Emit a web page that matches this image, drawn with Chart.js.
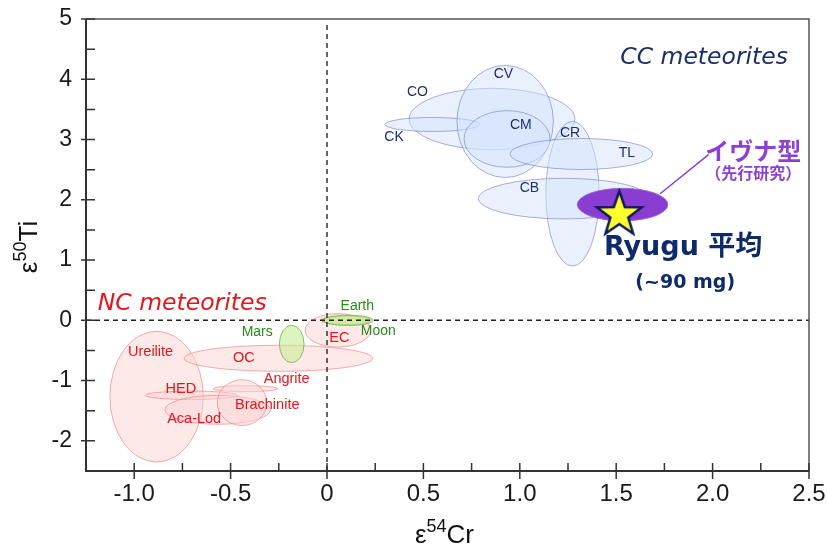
<!DOCTYPE html>
<html>
<head>
<meta charset="utf-8">
<script src="https://cdn.jsdelivr.net/npm/chart.js@4.4.0/dist/chart.umd.min.js"></script>
<style>
  body { margin: 0; background: #fff; }
  #wrap { width: 827px; height: 547px; }
</style>
</head>
<body>
<div id="wrap"><canvas id="chart"></canvas></div>
<script>
// axis ticks
const xTicks = [-1.0, -0.5, 0, 0.5, 1.0, 1.5, 2.0, 2.5];
const xTickLabels = ['-1.0', '-0.5', '0', '0.5', '1.0', '1.5', '2.0', '2.5'];
const xMinorTicks = [-0.75, -0.25, 0.25, 0.75, 1.25, 1.75, 2.25];
const yTicks = [-2, -1, 0, 1, 2, 3, 4, 5];
const yTickLabels = ['-2', '-1', '0', '1', '2', '3', '4', '5'];
const yMinorTicks = [-1.5, -0.5, 0.5, 1.5, 2.5, 3.5, 4.5];

// carbonaceous (CC) fields: centre and half-widths, in epsilon units
const ccNames = ['CO', 'CK', 'CV', 'CM', 'CR', 'TL', 'CB'];
const ccX  = [0.856, 0.547, 0.924, 0.934, 1.273, 1.319, 1.229];
const ccY  = [3.34, 3.25, 3.30, 3.01, 2.10, 2.76, 2.02];
const ccRx = [0.43, 0.246, 0.25, 0.223, 0.138, 0.37, 0.444];
const ccRy = [0.51, 0.116, 0.93, 0.47, 1.20, 0.257, 0.337];
const ccLabelX = [0.469, 0.348, 0.915, 1.005, 1.261, 1.555, 1.050];
const ccLabelY = [3.79, 3.04, 4.08, 3.24, 3.10, 2.77, 2.19];

// non-carbonaceous (NC) fields
const ncNames = ['Ureilite', 'OC', 'EC', 'Angrite', 'HED', 'Aca-Lod', 'Brachinite'];
const ncX  = [-0.884, -0.252, 0.056, -0.423, -0.703, -0.567, -0.441];
const ncY  = [-1.266, -0.63, -0.166, -1.134, -1.244, -1.485, -1.366];
const ncRx = [0.242, 0.489, 0.17, 0.167, 0.238, 0.274, 0.128];
const ncRy = [1.084, 0.216, 0.277, 0.05, 0.07, 0.24, 0.38];
const ncLabelX = [-0.915, -0.431, 0.064, -0.209, -0.758, -0.689, -0.310];
const ncLabelY = [-0.526, -0.619, -0.287, -0.967, -1.145, -1.631, -1.410];

// planets
const planetNames = ['Mars', 'Earth', 'Moon'];
const planetX  = [-0.183, 0.10, 0.11];
const planetY  = [-0.393, 0.0, 0.0];
const planetRx = [0.064, 0.13, 0.13];
const planetRy = [0.31, 0.07, 0.085];
const planetLabelX = [-0.362, 0.157, 0.266];
const planetLabelY = [-0.194, 0.232, -0.183];

// Ivuna-type (previous studies) and Ryugu average
const ivunaX = [1.533];
const ivunaY = [1.92];
const ivunaRx = [0.235];
const ivunaRy = [0.27];
const ryuguX = [1.516];
const ryuguY = [1.755];
const calloutX = [1.728, 1.979];
const calloutY = [2.10, 2.75];

// dashed zero lines
const hLineX = [-1.25, 2.5];
const hLineY = [0, 0];
const vLineX = [0, 0];
const vLineY = [-2.5, 4.95];

const SANS = '"Liberation Sans", Arial, sans-serif';
const WIDE = '"DejaVu Sans", "Noto Sans CJK JP", sans-serif';
const CJK = '"Noto Sans CJK JP", sans-serif';

function pts(xs, ys) {
  return xs.map((x, i) => ({ x: x, y: ys[i] }));
}

function makeStar(r) {
  const c = document.createElement('canvas');
  const size = Math.ceil(r * 2 + 6);
  c.width = size; c.height = size;
  const g = c.getContext('2d');
  const cx = size / 2, cy = size / 2;
  g.beginPath();
  for (let k = 0; k < 10; k++) {
    const a = -Math.PI / 2 + k * Math.PI / 5;
    const rr = k % 2 ? r * 0.40 : r;
    const px = cx + rr * Math.cos(a), py = cy + rr * Math.sin(a);
    if (k === 0) g.moveTo(px, py); else g.lineTo(px, py);
  }
  g.closePath();
  g.fillStyle = '#ffff2e';
  g.fill();
  g.lineWidth = 2.5;
  g.lineJoin = 'miter';
  g.strokeStyle = '#0c1c5a';
  g.stroke();
  return c;
}

const ellipses = {
  id: 'ellipses',
  beforeDatasetsDraw(chart) {
    const { ctx, chartArea: a, scales: { x, y } } = chart;
    const groups = [
      { xs: ncX, ys: ncY, rx: ncRx, ry: ncRy, fill: 'rgba(253,212,212,0.5)', line: 'rgba(238,130,130,0.75)' },
      { xs: ccX, ys: ccY, rx: ccRx, ry: ccRy, fill: 'rgba(214,227,251,0.5)', line: 'rgba(125,135,210,0.75)' },
      { xs: planetX, ys: planetY, rx: planetRx, ry: planetRy, fill: 'rgba(200,236,150,0.6)', line: 'rgba(110,170,70,0.85)' },
      { xs: ivunaX, ys: ivunaY, rx: ivunaRx, ry: ivunaRy, fill: 'rgba(134,56,208,0.97)', line: 'rgba(160,100,220,1)' }
    ];
    ctx.save();
    ctx.beginPath();
    ctx.rect(a.left, a.top, a.right - a.left, a.bottom - a.top);
    ctx.clip();
    groups.forEach(g => {
      g.xs.forEach((cx, i) => {
        const px = x.getPixelForValue(cx);
        const py = y.getPixelForValue(g.ys[i]);
        const rx = Math.abs(x.getPixelForValue(cx + g.rx[i]) - px);
        const ry = Math.abs(y.getPixelForValue(g.ys[i] + g.ry[i]) - py);
        ctx.beginPath();
        ctx.ellipse(px, py, rx, ry, 0, 0, Math.PI * 2);
        ctx.fillStyle = g.fill;
        ctx.fill();
        ctx.lineWidth = 0.9;
        ctx.strokeStyle = g.line;
        ctx.stroke();
      });
    });
    ctx.restore();
  }
};

const labels = {
  id: 'labels',
  afterDatasetsDraw(chart) {
    const { ctx, scales: { x, y } } = chart;
    function put(text, xv, yv, font, color) {
      ctx.font = font;
      ctx.fillStyle = color;
      ctx.textAlign = 'center';
      ctx.textBaseline = 'middle';
      ctx.fillText(text, x.getPixelForValue(xv), y.getPixelForValue(yv));
    }
    ctx.save();
    ccNames.forEach((n, i) => put(n, ccLabelX[i], ccLabelY[i], '14px ' + SANS, '#1d2f6c'));
    ncNames.forEach((n, i) => put(n, ncLabelX[i], ncLabelY[i], '14.5px ' + SANS, '#e8141c'));
    planetNames.forEach((n, i) => put(n, planetLabelX[i], planetLabelY[i], '14px ' + SANS, '#2a8a1a'));
    put('CC meteorites', 1.956, 4.35, 'oblique 23.5px "DejaVu Sans", sans-serif', '#1b2d6b');
    put('NC meteorites', -0.751, 0.277, 'oblique 23.5px "DejaVu Sans", sans-serif', '#e8141c');
    put('イヴナ型', 2.211, 2.82, 'bold 24px ' + CJK, '#8d3fd6');
    put('（先行研究）', 2.211, 2.44, 'bold 16px ' + CJK, '#8d3fd6');
    put('Ryugu 平均', 1.847, 1.195, 'bold 27px ' + WIDE, '#0f2a6a');
    put('(~90 mg)', 1.858, 0.614, 'bold 19px ' + WIDE, '#0f2a6a');
    ctx.restore();
  }
};

const frame = {
  id: 'frame',
  afterDraw(chart) {
    const { ctx, chartArea: a, scales: { x, y } } = chart;
    ctx.save();
    ctx.strokeStyle = '#555';
    ctx.lineWidth = 1.5;
    ctx.beginPath();
    ctx.moveTo(a.left, a.top); ctx.lineTo(a.right, a.top); ctx.lineTo(a.right, a.bottom);
    ctx.stroke();
    ctx.strokeStyle = '#333';
    ctx.lineWidth = 2;
    ctx.beginPath();
    ctx.moveTo(a.left, a.top); ctx.lineTo(a.left, a.bottom); ctx.lineTo(a.right, a.bottom);
    ctx.stroke();
    ctx.lineWidth = 1.5;
    ctx.beginPath();
    xTicks.forEach(v => { const p = x.getPixelForValue(v); ctx.moveTo(p, a.bottom - 8); ctx.lineTo(p, a.bottom + 8); });
    xMinorTicks.forEach(v => { const p = x.getPixelForValue(v); ctx.moveTo(p, a.bottom - 8); ctx.lineTo(p, a.bottom); });
    yTicks.forEach(v => { const p = y.getPixelForValue(v); ctx.moveTo(a.left - 5, p); ctx.lineTo(a.left + 9, p); });
    yMinorTicks.forEach(v => { const p = y.getPixelForValue(v); ctx.moveTo(a.left, p); ctx.lineTo(a.left + 9, p); });
    ctx.stroke();

    // axis titles with superscripts
    ctx.fillStyle = '#111';
    ctx.textBaseline = 'alphabetic';
    ctx.textAlign = 'left';
    function title(parts, x0, y0) {
      let cx = x0;
      parts.forEach(p => {
        ctx.font = p[1] + 'px ' + SANS;
        ctx.fillText(p[0], cx, y0 - p[2]);
        cx += ctx.measureText(p[0]).width;
      });
    }
    function width(parts) {
      let w = 0;
      parts.forEach(p => { ctx.font = p[1] + 'px ' + SANS; w += ctx.measureText(p[0]).width; });
      return w;
    }
    const xParts = [['ε', 26, 0], ['54', 18, 11], ['Cr', 26, 0]];
    title(xParts, 444.5 - width(xParts) / 2, 543);
    ctx.save();
    ctx.translate(37, 247);
    ctx.rotate(-Math.PI / 2);
    const yParts = [['ε', 26, 0], ['50', 18, 11], ['Ti', 26, 0]];
    title(yParts, -width(yParts) / 2, 0);
    ctx.restore();
    ctx.restore();
  }
};

const chart = new Chart(document.getElementById('chart'), {
  type: 'scatter',
  data: {
    datasets: [
      {
        label: 'Ryugu',
        data: pts(ryuguX, ryuguY),
        pointStyle: makeStar(23.5),
        pointRadius: 2
      },
      {
        label: 'callout',
        data: pts(calloutX, calloutY),
        showLine: true,
        borderColor: '#8d3fd6',
        borderWidth: 1.5,
        pointRadius: 0
      },
      {
        label: 'zero Ti',
        data: pts(hLineX, hLineY),
        showLine: true,
        borderColor: '#222',
        borderWidth: 1.5,
        borderDash: [5, 4],
        pointRadius: 0
      },
      {
        label: 'zero Cr',
        data: pts(vLineX, vLineY),
        showLine: true,
        borderColor: '#333',
        borderWidth: 1.5,
        borderDash: [5, 4],
        pointRadius: 0
      }
    ]
  },
  options: {
    responsive: true,
    maintainAspectRatio: false,
    animation: false,
    layout: { padding: { left: 0, right: 18, top: 19, bottom: 0 } },
    plugins: { legend: { display: false }, tooltip: { enabled: false } },
    scales: {
      x: {
        type: 'linear',
        min: -1.25,
        max: 2.5,
        afterBuildTicks: s => { s.ticks = xTicks.map(v => ({ value: v })); },
        afterFit: s => { s.height = 76; s.paddingLeft = 0; s.paddingRight = 0; },
        grid: { display: false, drawTicks: false },
        border: { display: false },
        ticks: {
          padding: 9,
          autoSkip: false,
          maxRotation: 0,
          color: '#1a1a1a',
          font: { family: SANS, size: 24 },
          callback: (v, i) => xTickLabels[i]
        }
      },
      y: {
        type: 'linear',
        min: -2.5,
        max: 5,
        afterBuildTicks: s => { s.ticks = yTicks.map(v => ({ value: v })); },
        afterFit: s => { s.width = 86; s.paddingTop = 0; s.paddingBottom = 0; },
        grid: { display: false, drawTicks: false },
        border: { display: false },
        ticks: {
          padding: 14,
          autoSkip: false,
          color: '#1a1a1a',
          font: { family: SANS, size: 23 },
          callback: (v, i) => yTickLabels[i]
        }
      }
    }
  },
  plugins: [ellipses, labels, frame]
});
</script>
</body>
</html>
